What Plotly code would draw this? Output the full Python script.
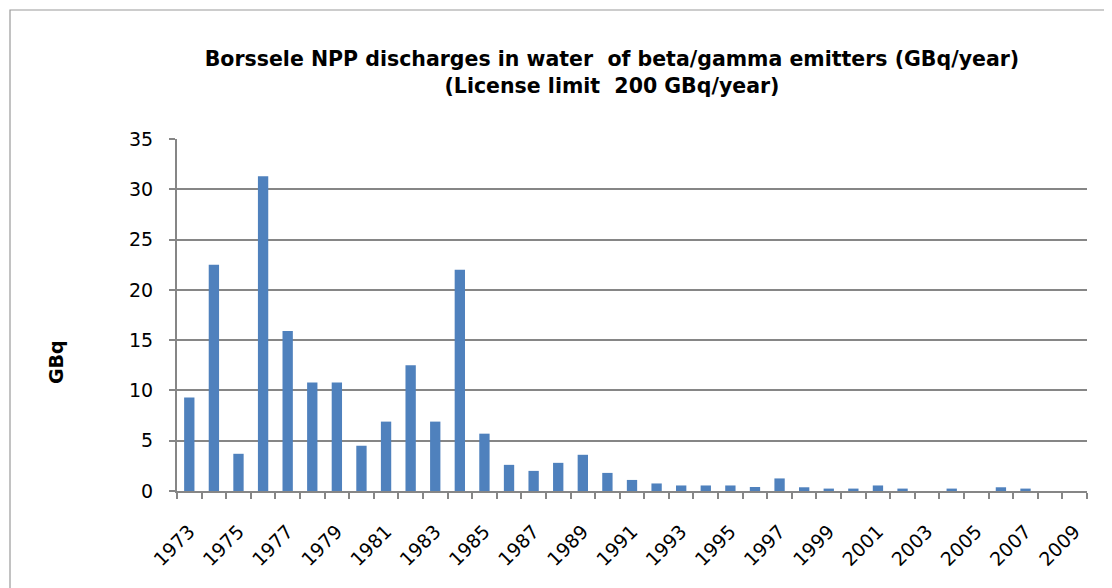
import plotly.graph_objects as go

years = list(range(1973, 2010))
values = [9.3, 22.5, 3.7, 31.3, 15.9, 10.8, 10.8, 4.5, 6.9, 12.5, 6.9, 22.0,
          5.7, 2.6, 2.0, 2.8, 3.6, 1.8, 1.1, 0.75, 0.55, 0.55, 0.55, 0.4,
          1.25, 0.37, 0.24, 0.24, 0.55, 0.24, 0.0, 0.24, 0.0, 0.37, 0.24, 0.0, 0.0]
tick_years = list(range(1973, 2010, 2))
tick_labels = [str(y) for y in tick_years]
y_ticks = [0, 5, 10, 15, 20, 25, 30, 35]

title_text = ("<b>Borssele NPP discharges in water  of beta/gamma emitters (GBq/year)</b><br>"
              "<b>(License limit  200 GBq/year)</b>")

FONT = "'DejaVu Sans', 'Open Sans', Arial"

fig = go.Figure()
fig.add_trace(go.Bar(x=years, y=values, width=0.42,
                     marker=dict(color="#4F81BD", line=dict(width=0))))

# page is offset by the 8px body margin; coordinates below are in screen px
OFF = 8
W, H = 1112, 588
ml, mt = 177 - OFF, 139 - OFF
mr = W - (1087 - OFF)
mb = H - (491 - OFF)
pw, ph = W - ml - mr, H - mt - mb

def px_x(x):
    return (x - OFF - ml) / pw

def px_y(y):
    return (H - mb - (y - OFF)) / ph

fig.update_layout(
    width=W, height=H,
    margin=dict(l=ml, r=mr, t=mt, b=mb),
    paper_bgcolor="white", plot_bgcolor="white",
    showlegend=False,
    font=dict(family=FONT, color="black"),
    title=dict(text=title_text, x=px_x(612), xanchor="center", xref="paper",
               y=1 - (72 - OFF - 6) / H, yanchor="middle",
               font=dict(size=20.5, family=FONT)),
    xaxis=dict(range=[1972.5, 2009.5], tickmode="array", tickvals=tick_years,
               ticktext=tick_labels, tickangle=-45, ticks="",
               tickfont=dict(size=19, family=FONT), automargin=False,
               ticklabelstandoff=20,
               showgrid=False, showline=True, linecolor="#868686", linewidth=2,
               zeroline=False,
               minor=dict(tickmode="array", tickvals=[1972.5 + k for k in range(38)],
                          ticks="outside", ticklen=6, tickcolor="#868686", tickwidth=2,
                          showgrid=False)),
    yaxis=dict(range=[0, 35], tickmode="array", tickvals=y_ticks,
               tickfont=dict(size=19, family=FONT), automargin=False,
               ticklabelstandoff=12,
               ticks="outside", ticklen=6, tickcolor="#868686", tickwidth=2,
               showgrid=True, gridcolor="#868686", gridwidth=2,
               showline=True, linecolor="#868686", linewidth=2, zeroline=False),
    annotations=[dict(text="<b>GBq</b>", xref="paper", yref="paper",
                      x=px_x(56), y=px_y(362), xanchor="center", yanchor="middle",
                      textangle=-90, showarrow=False,
                      font=dict(size=19, family=FONT))],
    shapes=[dict(type="rect", xref="paper", yref="paper",
                 x0=px_x(10), x1=px_x(1110), y0=px_y(10), y1=px_y(600),
                 line=dict(color="#9A9A9A", width=1.2), fillcolor="rgba(0,0,0,0)",
                 layer="below")],
)

fig.write_html("out.html")
